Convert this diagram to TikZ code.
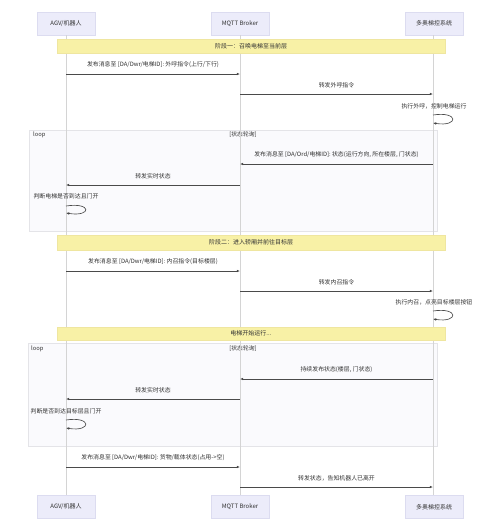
\documentclass[tikz,border=0pt]{standalone}
\usepackage{fontspec}
\setmainfont{Noto Sans CJK SC}
\usetikzlibrary{arrows.meta}
\definecolor{actorfill}{HTML}{ECECFA}
\definecolor{actorline}{HTML}{DCDCF0}
\definecolor{notefill}{HTML}{F8F1A6}
\definecolor{noteline}{HTML}{EFE6A0}
\definecolor{lifecol}{HTML}{D4D4D4}
\definecolor{msgcol}{HTML}{4A4A4A}
\definecolor{txtcol}{HTML}{333333}
\definecolor{framecol}{HTML}{E4E4E8}
\definecolor{framefill}{HTML}{FAFAFD}
\begin{document}
\begin{tikzpicture}[x=1pt,y=-1pt,
  actor/.style={draw=actorline, fill=actorfill, minimum width=58pt, minimum height=23pt, inner sep=0pt, font=\fontsize{6}{7}\selectfont, text=txtcol},
  note/.style={draw=noteline, fill=notefill, minimum width=388pt, inner sep=0pt, font=\fontsize{6}{7}\selectfont, text=txtcol},
  life/.style={draw=lifecol, line width=0.6pt},
  msg/.style={draw=msgcol, line width=0.65pt, -{Latex[length=3.2pt,width=2.6pt]}},
  lbl/.style={font=\fontsize{5.9}{7}\selectfont, text=txtcol, inner sep=0pt},
  frame/.style={draw=framecol, fill=framefill, line width=0.5pt},
  flbl/.style={font=\fontsize{5.8}{7}\selectfont, text=txtcol, inner sep=0pt}
]
\useasboundingbox (0,0) rectangle (500,531);
\fill[white] (0,0) rectangle (500,531);

% loop frames
\draw[frame] (29,130) rectangle (437,231);
\node[flbl, anchor=west] (fl1) at (33,135) {loop};
\node[flbl] (fc1) at (243,135) {[状态轮询]};
\draw[frame] (28,343) rectangle (437,446);
\node[flbl, anchor=west] (fl2) at (31,349) {loop};
\node[flbl] (fc2) at (243,349) {[状态轮询]};

% actors
\node[actor] (a1) at (66,23.5) {AGV/机器人};
\node[actor] (a2) at (240,23.5) {MQTT Broker};
\node[actor] (a3) at (434,23.5) {多奥梯控系统};
\node[actor] (b1) at (66,507) {AGV/机器人};
\node[actor] (b2) at (240,507) {MQTT Broker};
\node[actor] (b3) at (434,507) {多奥梯控系统};

% lifelines
\draw[life] (a1.south) -- (b1.north);
\draw[life] (a2.south) -- (b2.north);
\draw[life] (433,35) -- (433,495);

% notes
\node[note, minimum height=14pt] (n1) at (251,46) {阶段一：召唤电梯至当前层};
\node[note, minimum height=15pt] (n2) at (251,242.5) {阶段二：进入轿厢并前往目标层};
\node[note, minimum height=13pt] (n3) at (251,333.5) {电梯开始运行...};

% coordinates on lifelines
\coordinate (m1a) at (66,74);   \coordinate (m1b) at (240,74);
\coordinate (m2a) at (240,94);  \coordinate (m2b) at (433,94);
\coordinate (s3a) at (433,115); \coordinate (s3b) at (433,123);
\coordinate (m4a) at (433,164); \coordinate (m4b) at (240,164);
\coordinate (m5a) at (240,185); \coordinate (m5b) at (66,185);
\coordinate (s6a) at (66,206);  \coordinate (s6b) at (66,213);
\coordinate (m7a) at (66,271);  \coordinate (m7b) at (240,271);
\coordinate (m8a) at (240,291); \coordinate (m8b) at (433,291);
\coordinate (s9a) at (433,311); \coordinate (s9b) at (433,319);
\coordinate (m10a) at (433,379); \coordinate (m10b) at (240,379);
\coordinate (m11a) at (240,399); \coordinate (m11b) at (66,399);
\coordinate (s12a) at (66,420); \coordinate (s12b) at (66,428);
\coordinate (m13a) at (66,467); \coordinate (m13b) at (240,467);
\coordinate (m14a) at (240,487); \coordinate (m14b) at (433,487);

% messages
\draw[msg] (m1a) -- node[lbl, midway, yshift=9pt] (l1) {发布消息至 [DA/Dwr/电梯ID]: 外呼指令(上行/下行)} (m1b);
\draw[msg] (m2a) -- node[lbl, midway, yshift=9pt] (l2) {转发外呼指令} (m2b);
\node[lbl] (l3) at (434,106) {执行外呼，控制电梯运行};
\draw[msg] (s3a) .. controls +(26,-4) and +(26,4) .. (s3b);
\draw[msg] (m4a) -- node[lbl, midway, yshift=9pt] (l4) {发布消息至 [DA/Ord/电梯ID]: 状态(运行方向, 所在楼层, 门状态)} (m4b);
\draw[msg] (m5a) -- node[lbl, midway, yshift=9pt] (l5) {转发实时状态} (m5b);
\node[lbl] (l6) at (66,196) {判断电梯是否到达且门开};
\draw[msg] (s6a) .. controls +(26,-4) and +(26,4) .. (s6b);
\draw[msg] (m7a) -- node[lbl, midway, yshift=9.5pt] (l7) {发布消息至 [DA/Dwr/电梯ID]: 内召指令(目标楼层)} (m7b);
\draw[msg] (m8a) -- node[lbl, midway, yshift=9pt] (l8) {转发内召指令} (m8b);
\node[lbl] (l9) at (434,302) {执行内召，点亮目标楼层按钮};
\draw[msg] (s9a) .. controls +(26,-4) and +(26,4) .. (s9b);
\draw[msg] (m10a) -- node[lbl, midway, yshift=9.5pt] (l10) {持续发布状态(楼层, 门状态)} (m10b);
\draw[msg] (m11a) -- node[lbl, midway, yshift=9pt] (l11) {转发实时状态} (m11b);
\node[lbl] (l12) at (66,411) {判断是否到达目标层且门开};
\draw[msg] (s12a) .. controls +(26,-4) and +(26,4) .. (s12b);
\draw[msg] (m13a) -- node[lbl, midway, yshift=9.5pt] (l13) {发布消息至 [DA/Dwr/电梯ID]: 货物/载体状态(占用->空)} (m13b);
\draw[msg] (m14a) -- node[lbl, midway, yshift=9pt] (l14) {转发状态，告知机器人已离开} (m14b);
\end{tikzpicture}
\end{document}
